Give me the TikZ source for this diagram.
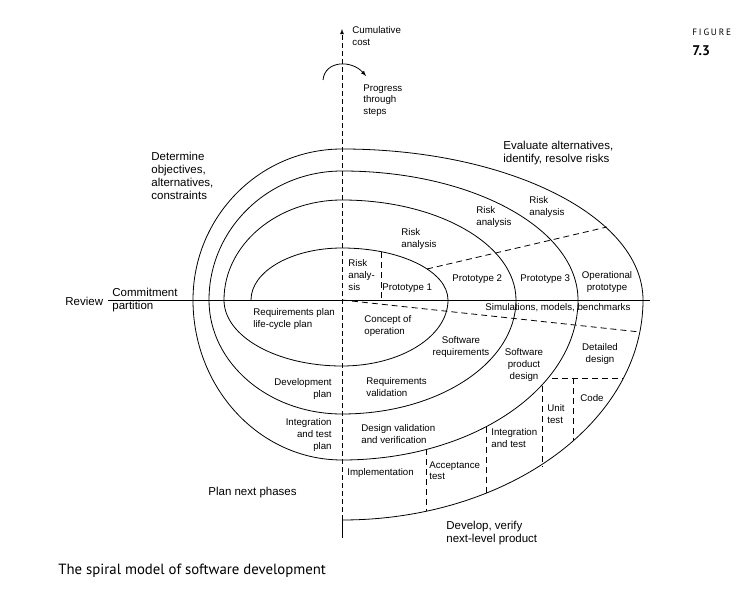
\documentclass[tikz,border=0pt]{standalone}
\usepackage{fontspec}
\setmainfont{Liberation Sans}
\newfontfamily\capfont{PT Sans}
\newfontfamily\figfont[LetterSpace=20]{PT Sans}
\usepackage{tikz}
\usetikzlibrary{arrows}

\tikzset{
  lbl/.style={inner sep=0pt, font=\fontsize{9.7}{11.8}\selectfont},
  big/.style={inner sep=0pt, font=\fontsize{11.5}{13}\selectfont},
  part/.style={dash pattern=on 6pt off 4pt},
}

\begin{document}
\begin{tikzpicture}[x=1pt, y=-1pt, line width=0.8pt]
      \useasboundingbox (0,0) rectangle (750,593);
      \coordinate (O) at (342,300);

      % axes
      \draw (108,300) -- (650,300);
      \draw[dash pattern=on 5pt off 3pt, -latex] (342,520) -- (342,29);
      \draw (342,520) -- (342,538);
      \draw[-latex] (323,80) .. controls (325,60) and (352,60) .. (366,76);

      % the spiral
      \draw (251,300) arc[start angle=180, end angle=270, x radius=91, y radius=52]
            arc[start angle=270, end angle=360, x radius=106, y radius=52]
            arc[start angle=0, end angle=90, x radius=106, y radius=66]
            arc[start angle=90, end angle=180, x radius=118, y radius=66]
            arc[start angle=180, end angle=270, x radius=118, y radius=100]
            arc[start angle=270, end angle=360, x radius=174, y radius=100]
            arc[start angle=0, end angle=90, x radius=174, y radius=114]
            arc[start angle=90, end angle=180, x radius=133, y radius=114]
            arc[start angle=180, end angle=270, x radius=133, y radius=129]
            arc[start angle=270, end angle=360, x radius=236, y radius=129]
            arc[start angle=0, end angle=90, x radius=236, y radius=160]
            arc[start angle=90, end angle=180, x radius=149, y radius=160]
            arc[start angle=180, end angle=270, x radius=149, y radius=151]
            arc[start angle=270, end angle=360, x radius=301, y radius=151]
            arc[start angle=0, end angle=90, x radius=301, y radius=220];

      % dashed partitions
      \draw[part] (381,252) -- (381,300);
      \draw[part] (427,269) -- (607,227);
      \draw[part] (O) -- (640,332);
      \draw[part] (552,378) -- (623,378);
      \draw[part] (573,378) -- (573,441);
      \draw[part] (542,386) -- (542,467);
      \draw[part] (486,427) -- (486,493);
      \draw[part] (426,449) -- (426,511);

      % axis labels
      \node[lbl, anchor=north west, align=left] (cumul) at (352,26) {Cumulative\\cost};
      \node[lbl, anchor=north west, align=left] (progress) at (363,84) {Progress\\through\\steps};
      \node[big, anchor=west] (review) at (65,301) {Review};
      \node[big, anchor=north west, align=left] (commit) at (112,288) {Commitment\\partition};

      % quadrants
      \node[big, anchor=north west, align=left] (determine) at (151,152) {Determine\\objectives,\\alternatives,\\constraints};
      \node[big, anchor=north west, align=left] (evaluate) at (503,141) {Evaluate alternatives,\\identify, resolve risks};
      \node[big, anchor=west] (plannext) at (208,493) {Plan next phases};
      \node[big, anchor=north west, align=left] (develop) at (446,521) {Develop, verify\\next-level product};

      % upper right
      \node[lbl, anchor=north west, align=left] (riskA) at (529,196) {Risk\\analysis};
      \node[lbl, anchor=north west, align=left] (riskB) at (476,206) {Risk\\analysis};
      \node[lbl, anchor=north west, align=left] (riskC) at (401,228) {Risk\\analysis};
      \node[lbl, anchor=north west, align=left] (riskD) at (348,259) {Risk\\analy-\\sis};
      \node[lbl, anchor=north west] (proto1) at (382,283) {Prototype 1};
      \node[lbl, anchor=north west] (proto2) at (452,274) {Prototype 2};
      \node[lbl, anchor=north west] (proto3) at (520,274) {Prototype 3};
      \node[lbl, anchor=north, align=center] (opproto) at (607,271) {Operational\\prototype};

      % lower right
      \node[lbl, anchor=north west] (simul) at (485,303) {Simulations, models, benchmarks};
      \node[lbl, anchor=north west, align=left] (concept) at (364,315) {Concept of\\operation};
      \node[lbl, anchor=north, align=center] (softreq) at (461,336) {Software\\requirements};
      \node[lbl, anchor=north, align=center] (softprod) at (524,348) {Software\\product\\design};
      \node[lbl, anchor=north, align=center] (detdes) at (600,343) {Detailed\\design};
      \node[lbl, anchor=north west] (code) at (580,394) {Code};
      \node[lbl, anchor=north west, align=left] (unit) at (547,404) {Unit\\test};
      \node[lbl, anchor=north west, align=left] (integ) at (491,428) {Integration\\and test};
      \node[lbl, anchor=north west, align=left] (accept) at (429,461) {Acceptance\\test};
      \node[lbl, anchor=north west] (impl) at (347,468) {Implementation};
      \node[lbl, anchor=north west, align=left] (reqval) at (366,377) {Requirements\\validation};
      \node[lbl, anchor=north west, align=left] (desval) at (361,424) {Design validation\\and verification};

      % lower left
      \node[lbl, anchor=north west, align=left] (reqplan) at (253,308) {Requirements plan\\life-cycle plan};
      \node[lbl, anchor=north east, align=right] (devplan) at (332,378) {Development\\plan};
      \node[lbl, anchor=north east, align=right] (intplan) at (332,418) {Integration\\and test\\plan};

      % caption
      \node[inner sep=0pt, anchor=base west, font=\capfont\fontsize{14.8}{17}\selectfont] (caption) at (58,574) {The spiral model of software development};
      \node[inner sep=0pt, anchor=base west, font=\figfont\fontsize{9.2}{10}\selectfont] (figword) at (692,36) {FIGURE};
      \node[inner sep=0pt, anchor=base west, font=\capfont\bfseries\fontsize{14}{15}\selectfont] (fignum) at (692,56) {7.3};
\end{tikzpicture}
\end{document}
